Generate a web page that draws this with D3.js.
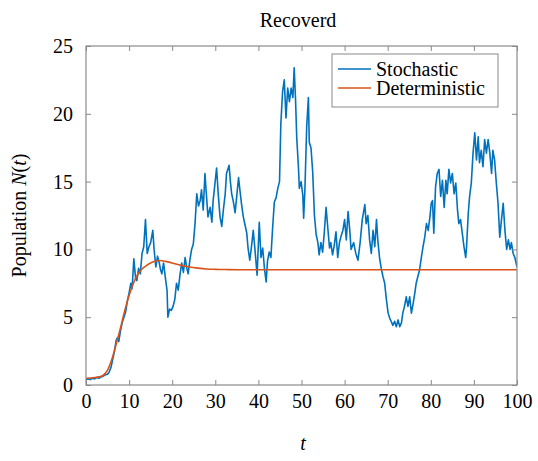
<!DOCTYPE html>
<html>
<head>
<meta charset="utf-8">
<script src="https://cdn.jsdelivr.net/npm/d3@7/dist/d3.min.js"></script>
<style>
  html, body { margin: 0; padding: 0; background: #fff; }
  svg { display: block; }
  svg text { font-family: 'Liberation Serif' !important; }
</style>
</head>
<body>
<svg id="chart" width="538" height="461" font-family="Liberation Serif">
  <text id="title" x="298" y="27" text-anchor="middle" font-size="20" font-family="Liberation Serif">Recoverd</text>
</svg>
<script>
// Simulated recovered population: one stochastic path and the ODE solution
const stochasticT = [0,0.5,1,1.5,2,2.5,3,3.5,4,4.5,5,5.3,5.8,6.2,6.6,7.0,7.3,7.6,8.0,8.4,8.8,9.2,9.6,10.0,10.4,10.7,11.1,11.5,11.8,12.2,12.6,13.0,13.4,13.8,14.2,14.6,15.0,15.5,15.8,16.2,16.6,17.0,17.3,17.6,18.0,18.5,18.8,19.0,19.4,19.8,20.2,20.6,21.0,21.4,21.8,22.2,22.6,23.0,23.4,23.7,24.1,24.5,24.9,25.3,25.7,26.1,26.5,26.8,27.2,27.6,27.9,28.3,28.8,29.2,29.5,29.9,30.3,30.7,31.1,31.5,31.9,32.3,32.6,33.2,33.5,33.8,34.2,34.6,35.0,35.4,35.7,36.1,36.5,36.9,37.3,37.6,38.0,38.4,38.8,39.2,39.7,40.2,40.6,41.0,41.4,41.8,42.1,42.5,42.9,43.3,43.7,44.1,44.5,44.9,45.2,45.6,46.0,46.4,46.8,47.2,47.6,48.0,48.3,48.6,48.9,49.3,49.5,49.9,50.3,50.5,50.8,51.2,51.6,51.8,52.2,52.6,53.0,53.4,53.8,54.1,54.5,54.9,55.3,55.7,56.1,56.5,56.8,57.2,57.6,58.0,58.4,58.8,59.2,59.6,60.0,60.4,60.8,61.2,61.5,62.1,62.6,63.1,63.6,64.1,64.7,65.0,65.4,65.8,66.2,66.6,67.0,67.4,67.7,68.1,68.5,68.9,69.3,69.7,70.1,70.5,70.8,71.2,71.6,72.0,72.4,72.8,73.2,73.5,73.9,74.3,74.7,75.1,75.5,75.9,76.3,76.6,77.0,77.4,77.8,78.2,78.6,79.0,79.4,79.8,80.1,80.4,80.7,81.1,81.5,81.9,82.3,82.7,83.1,83.5,83.8,84.2,84.6,85.0,85.4,85.8,86.2,86.5,86.9,87.3,87.7,88.1,88.3,88.7,89.0,89.4,89.8,90.2,90.6,91.0,91.3,91.7,92.1,92.5,92.9,93.3,93.7,94.1,94.4,94.8,95.2,95.6,96.0,96.4,96.8,97.2,97.6,98.0,98.4,98.7,99.1,99.5,100];
const stochasticN = [0.4,0.45,0.4,0.5,0.45,0.55,0.5,0.6,0.65,0.75,0.8,0.9,1.3,1.9,2.5,3.3,3.5,3.2,4.0,4.6,5.0,5.4,6.2,6.8,7.5,7.1,9.3,7.9,7.7,8.6,8.2,9.7,10.2,12.2,9.7,10.2,10.5,11.4,10.0,8.7,9.5,9.0,8.5,8.2,9.0,7.7,7.0,5.0,5.6,5.5,5.8,6.3,7.5,7.0,8.1,9.0,8.3,9.4,8.6,8.2,9.2,10.0,10.4,11.9,14.1,13.2,13.6,14.4,12.9,15.6,14.2,12.4,13.1,12.0,13.6,14.8,16.0,14.0,12.4,11.7,13.0,14.1,15.6,16.2,15.0,14.1,13.5,12.7,14.0,15.3,14.4,13.3,12.4,11.8,11.2,10.1,9.2,10.2,11.4,10.0,8.1,12.0,9.4,10.1,8.6,7.6,9.1,9.8,9.4,11.6,13.5,13.8,14.5,15.0,19.2,21.6,22.5,19.7,21.9,20.9,21.9,21.2,23.4,21.2,18.2,16.0,14.5,15.0,14.0,12.3,14.5,19.0,21.2,17.9,17.5,15.7,12.5,11.1,10.5,9.6,10.5,9.8,11.3,13.1,11.6,10.1,10.5,9.6,10.3,11.3,9.4,10.5,11.0,11.4,12.2,10.7,12.8,11.4,10.0,10.5,9.7,9.2,10.5,12.2,13.3,11.9,12.5,10.7,9.7,11.4,10.2,12.2,10.7,9.4,8.6,8.0,7.5,6.3,5.3,4.9,4.7,4.4,4.7,4.3,4.8,4.3,4.6,5.3,5.8,6.5,5.8,6.5,5.3,6.0,6.8,7.5,8.0,8.5,9.4,10.2,10.9,11.9,11.4,12.4,13.4,13.6,11.2,14.6,15.6,15.9,13.9,15.1,13.1,15.1,14.1,15.9,14.9,15.6,14.1,14.9,12.9,11.9,12.2,11.2,10.2,9.4,10.2,12.7,13.9,14.9,17.1,18.6,16.6,18.3,16.4,17.3,16.1,18.1,17.1,18.1,17.1,15.6,17.3,16.6,14.9,13.4,10.9,12.2,13.4,11.4,10.0,10.7,10.0,10.5,9.7,9.4,8.7];

const deterministicT = [0,1,2,3,4,5,6,7,8,9,10,11,12,13,14,15,16,17,18,19,20,22,24,26,28,30,33,36,40,50,60,70,80,90,100];
const deterministicN = [0.5,0.52,0.55,0.6,0.72,1.1,1.9,3.0,4.2,5.5,6.6,7.5,8.15,8.55,8.8,9.0,9.12,9.18,9.15,9.08,9.0,8.82,8.7,8.62,8.56,8.53,8.51,8.5,8.5,8.5,8.5,8.5,8.5,8.5,8.5];

const xTicks = [0,10,20,30,40,50,60,70,80,90,100];
const yTicks = [0,5,10,15,20,25];
const seriesNames = ["Stochastic", "Deterministic"];
const seriesColors = ["#0072BD", "#D95319"];

const serif = "Liberation Serif";
const svg = d3.select("#chart");
const plot = { left: 86, right: 517, top: 46, bottom: 385 };

const x = d3.scaleLinear().domain([0, 100]).range([plot.left, plot.right]);
const y = d3.scaleLinear().domain([0, 25]).range([plot.bottom, plot.top]);

// Curves, clipped to the axes box
svg.append("defs").append("clipPath").attr("id", "plotClip")
  .append("rect")
  .attr("x", plot.left).attr("y", plot.top)
  .attr("width", plot.right - plot.left).attr("height", plot.bottom - plot.top);

const lineGen = d3.line().x(d => x(d[0])).y(d => y(d[1]));
const stochastic = stochasticT.map((t, i) => [t, stochasticN[i]]);
const deterministic = deterministicT.map((t, i) => [t, deterministicN[i]]);

const curves = svg.append("g").attr("clip-path", "url(#plotClip)");
curves.append("path")
  .datum(stochastic)
  .attr("fill", "none")
  .attr("stroke", seriesColors[0])
  .attr("stroke-width", 1.6)
  .attr("stroke-linejoin", "round")
  .attr("d", lineGen);
curves.append("path")
  .datum(deterministic)
  .attr("fill", "none")
  .attr("stroke", seriesColors[1])
  .attr("stroke-width", 1.6)
  .attr("d", lineGen.curve(d3.curveMonotoneX));

// Axes with inward ticks on all four sides (box style)
const tickLen = 5;
const gBottom = svg.append("g").attr("transform", `translate(0,${plot.bottom})`)
  .call(d3.axisBottom(x).tickValues(xTicks).tickSize(-tickLen).tickPadding(9).tickFormat(d3.format("d")));
const gTop = svg.append("g").attr("transform", `translate(0,${plot.top})`)
  .call(d3.axisTop(x).tickValues(xTicks).tickSize(-tickLen).tickFormat(""));
const gLeft = svg.append("g").attr("transform", `translate(${plot.left},0)`)
  .call(d3.axisLeft(y).tickValues(yTicks).tickSize(-tickLen).tickPadding(13).tickFormat(d3.format("d")));
const gRight = svg.append("g").attr("transform", `translate(${plot.right},0)`)
  .call(d3.axisRight(y).tickValues(yTicks).tickSize(-tickLen).tickFormat(""));

[gBottom, gTop, gLeft, gRight].forEach(g => {
  g.attr("font-family", serif).attr("font-size", 20);
  g.select(".domain").remove();
  g.selectAll(".tick line").attr("stroke", "#888").attr("stroke-width", 1);
  g.selectAll(".tick text").style("font-family", serif).attr("font-size", 20).attr("fill", "#000");
});

svg.append("rect")
  .attr("x", plot.left).attr("y", plot.top)
  .attr("width", plot.right - plot.left).attr("height", plot.bottom - plot.top)
  .attr("fill", "none").attr("stroke", "#8a8a8a").attr("stroke-width", 1.2);

// Axis labels
svg.append("text")
  .attr("x", 303).attr("y", 450)
  .attr("text-anchor", "middle").attr("font-size", 20).attr("font-style", "italic")
  .style("font-family", serif)
  .text("t");

const yLab = svg.append("text")
  .attr("transform", `translate(26,${(plot.top + plot.bottom) / 2}) rotate(-90)`)
  .attr("text-anchor", "middle").attr("font-size", 20)
  .style("font-family", serif);
yLab.append("tspan").text("Population ");
yLab.append("tspan").attr("font-style", "italic").text("N");
yLab.append("tspan").text("(");
yLab.append("tspan").attr("font-style", "italic").text("t");
yLab.append("tspan").text(")");

// Legend
const legend = svg.append("g");
legend.append("rect")
  .attr("x", 332).attr("y", 54).attr("width", 166).attr("height", 53)
  .attr("fill", "#fff").attr("stroke", "#8a8a8a").attr("stroke-width", 1);
seriesNames.forEach((name, i) => {
  const ly = 69 + i * 19;
  legend.append("line")
    .attr("x1", 338).attr("x2", 371).attr("y1", ly).attr("y2", ly)
    .attr("stroke", seriesColors[i]).attr("stroke-width", 1.6);
  legend.append("text")
    .attr("x", 376).attr("y", ly + 7).attr("font-size", 20)
    .style("font-family", serif)
    .text(name);
});
</script>
</body>
</html>
